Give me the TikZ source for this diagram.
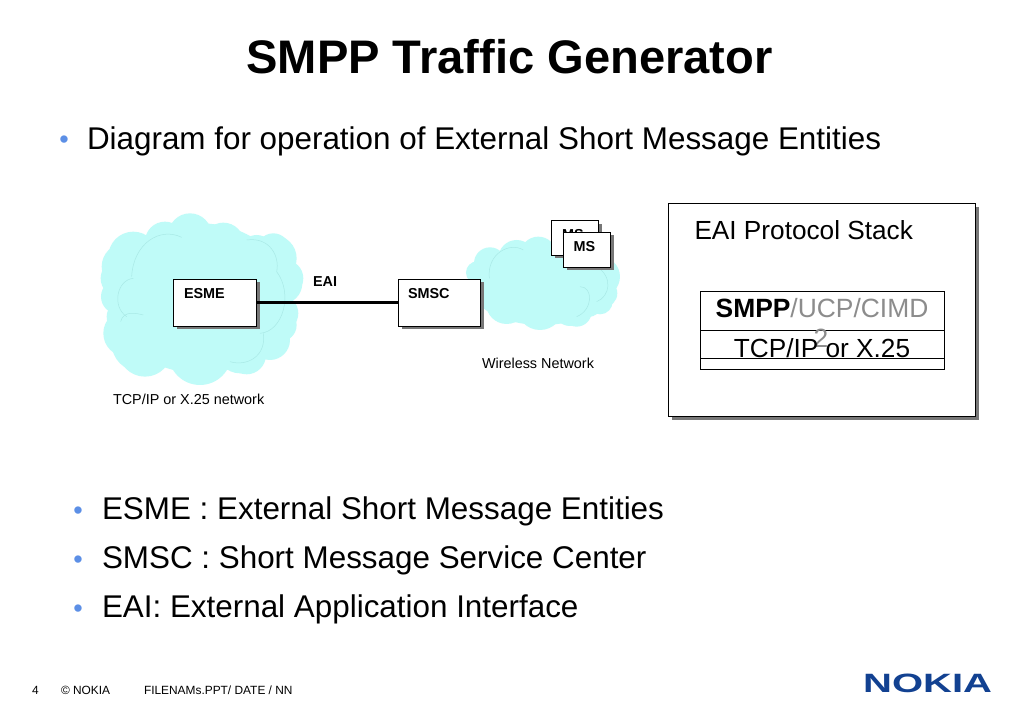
\documentclass[tikz,border=0pt]{standalone}
\usepackage{fontspec}
\setmainfont{Liberation Sans}
\usetikzlibrary{shadows}
\definecolor{cloudfill}{HTML}{BFFBF8}
\definecolor{cloudline}{HTML}{A9E9E6}
\definecolor{bulletblue}{HTML}{5C8FE6}
\definecolor{nokiablue}{HTML}{124191}
\definecolor{stackgray}{HTML}{8C8C8C}
\definecolor{shadowgray}{HTML}{777777}
\newcommand{\fsz}[1]{\fontsize{#1}{#1}\selectfont}
\tikzset{
  txt/.style={anchor=base west,inner sep=0pt,outer sep=0pt,text=black},
  cntr/.style={anchor=base,inner sep=0pt,outer sep=0pt,text=black},
  bodytext/.style={txt,font=\fsz{31.4}},
  bul/.style={anchor=base,inner sep=0pt,text=bulletblue,font=\fsz{27}},
  boxlabel/.style={txt,font=\fsz{14.4}\bfseries},
  smalllabel/.style={txt,font=\fsz{14.4}},
  foot/.style={txt,font=\fsz{11.9}},
  shadowbox/.style={draw=black,line width=0.9pt,fill=white,anchor=north west,inner sep=0pt,outer sep=0pt,
    drop shadow={shadow xshift=3.5pt,shadow yshift=-3.5pt,fill=shadowgray,opacity=1}},
  cell/.style={draw=black,line width=0.9pt,anchor=north west,inner sep=0pt,outer sep=0pt,minimum width=244pt},
  cloudpart/.style={fill=cloudfill,draw=none},
  cloudarc/.style={draw=cloudline,line width=0.5pt},
}
\begin{document}
\begin{tikzpicture}[x=1pt,y=-1pt]
\useasboundingbox (0,0) rectangle (1023,708);
\fill[white] (0,0) rectangle (1023,708);

% title and top bullet
\node[cntr,font=\fsz{47.1}\bfseries] (title) at (509.5,74) {SMPP Traffic Generator};
\node[bul] (b0) at (64,149) {•};
\node[bodytext] (t0) at (87,150) {Diagram for operation of External Short Message Entities};

% left cloud
\begin{scope}[shift={(90,200)},x=0.3333pt,y=-0.3333pt]
  \fill[cloudpart] (330,295) ellipse [x radius=270,y radius=225];
  \foreach \cx/\cy/\r in {300/105/65,225/125/60,400/130/62,500/155/50,550/150/50,
     105/200/70,85/290/52,575/250/62,570/340/55,95/350/45,150/430/85,330/460/95,450/450/70,480/480/35,530/410/40,
     130/170/75,550/175/70,585/235/55,110/400/70,165/450/80,470/465/58,540/420/60,570/375/50,90/235/58}
    \fill[cloudpart] (\cx,\cy) circle [radius=\r];
  \draw[cloudarc] (125,230) .. controls (130,130) and (210,80) .. (275,112);
  \draw[cloudarc] (470,120) .. controls (540,110) and (570,170) .. (560,215);
  \draw[cloudarc] (130,235) .. controls (80,240) and (65,320) .. (110,350);
  \draw[cloudarc] (92,365) .. controls (100,330) and (140,340) .. (160,345);
  \draw[cloudarc] (510,400) .. controls (580,395) and (610,280) .. (560,215);
  \draw[cloudarc] (520,400) .. controls (530,470) and (470,500) .. (420,485);
\end{scope}

% right cloud
\begin{scope}[shift={(390,200)},x=0.3333pt,y=-0.3333pt]
  \fill[cloudpart] (455,255) ellipse [x radius=215,y radius=120];
  \foreach \cx/\cy/\r in {300/190/48,380/175/55,445/165/55,262/218/34,560/190/60,
     630/230/60,640/280/42,350/310/62,450/320/70,540/330/48,590/300/52,
     280/260/40,560/335/45,630/305/38}
    \fill[cloudpart] (\cx,\cy) circle [radius=\r];
  \draw[cloudarc] (298,235) .. controls (290,160) and (360,125) .. (400,150);
  \draw[cloudarc] (570,260) .. controls (610,260) and (610,330) .. (560,350);
  \draw[cloudarc] (620,200) .. controls (670,230) and (660,290) .. (620,305);
\end{scope}

% network diagram
\node[shadowbox,minimum width=83pt,minimum height=47pt] (esme) at (173,279) {};
\node[shadowbox,minimum width=82pt,minimum height=47pt] (smsc) at (398,279) {};
\draw[line width=2.6pt,black] (esme.east) -- (smsc.west);
\node[boxlabel] (esmel) at (184,299) {ESME};
\node[boxlabel] (smscl) at (408,299) {SMSC};
\node[boxlabel] (eail) at (313,287) {EAI};
\node[shadowbox,minimum width=47pt,minimum height=34.5pt] (msb) at (551,220.5) {};
\node[boxlabel] (msbl) at (562,240) {MS};
\node[shadowbox,minimum width=47pt,minimum height=35pt] (msf) at (563,232) {};
\node[boxlabel] (msfl) at (573.5,252) {MS};
\node[smalllabel] (wl) at (482,369) {Wireless Network};
\node[smalllabel] (tl) at (113,405) {TCP/IP or X.25 network};

% protocol stack panel
\node[shadowbox,line width=1pt,minimum width=306.5pt,minimum height=213pt] (panel) at (668.7,204) {};
\node[txt,font=\fsz{26.2}] (pl) at (694.5,240) {EAI Protocol Stack};
\node[cell,minimum height=39pt] (c1) at (700,291) {};
\node[cell,minimum height=28pt] (c2) at (700,330) {};
\node[cell,minimum height=11pt] (c3) at (700,358) {};
\node[cntr,text=stackgray,font=\fsz{26.4}] (smpp) at (822,318) {\textcolor{black}{\bfseries SMPP}/UCP/CIMD};
\node[cntr,text=stackgray,font=\fsz{26.4}] (two) at (821,348) {2};
\node[cntr,font=\fsz{26.2}] (tcp) at (822,358) {TCP/IP or X.25};

% lower bullets
\node[bul] (b1) at (78,519) {•};
\node[bodytext] (t1) at (102,519) {ESME : External Short Message Entities};
\node[bul] (b2) at (78,568) {•};
\node[bodytext] (t2) at (102,568) {SMSC : Short Message Service Center};
\node[bul] (b3) at (78,617) {•};
\node[bodytext] (t3) at (102,617) {EAI: External Application Interface};

% footer
\node[foot] (f1) at (32,694) {4};
\node[foot] (f2) at (61,694) {© NOKIA};
\node[foot] (f3) at (144,694) {FILENAMs.PPT/ DATE / NN};
\node[anchor=base west,inner sep=0pt,text=nokiablue,font=\fsz{26.5}\bfseries] (logo) at (863,692) {\scalebox{1.51}[1.0]{NOKIA}};
\end{tikzpicture}
\end{document}
